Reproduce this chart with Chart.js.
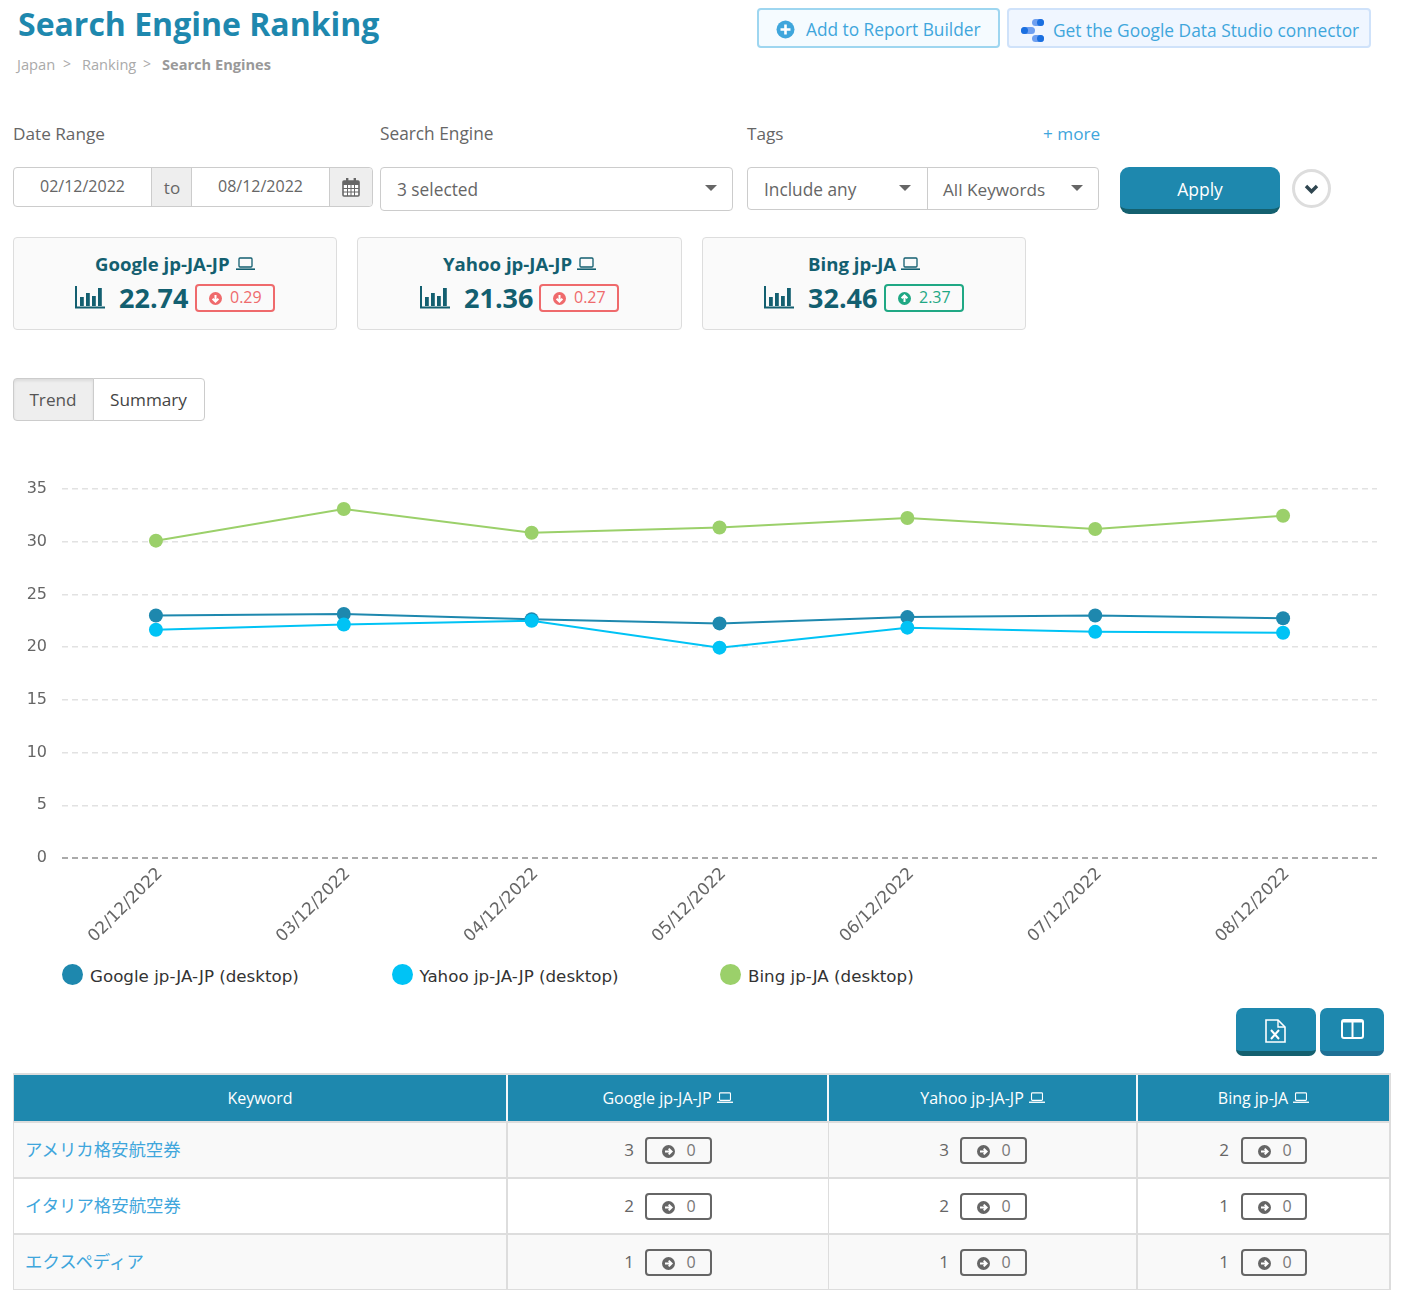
<!DOCTYPE html>
<html><head><meta charset="utf-8">
<script src="https://cdn.jsdelivr.net/npm/chart.js@4"></script>
<style>
html,body{margin:0;padding:0;background:#fff;overflow:hidden}
body{width:1404px;height:1290px;position:relative;font-family:"Open Sans",sans-serif;color:#666}
.a{position:absolute;box-sizing:border-box}
.t{position:absolute;white-space:nowrap;transform:translateY(-50%);line-height:1.2}
.c{transform:translate(-50%,-50%)}
svg{position:absolute;overflow:visible}
#wrap{position:absolute;left:0;top:470px;width:1404px;height:490px}
</style></head><body>
<div id="wrap"><canvas id="chart" width="1404" height="490"></canvas></div>
<script>
const dates=["02/12/2022","03/12/2022","04/12/2022","05/12/2022","06/12/2022","07/12/2022","08/12/2022"];
const yTicks=[0,5,10,15,20,25,30,35];
const googleValues=[23.0,23.15,22.65,22.25,22.85,23.0,22.74];
const yahooValues=[21.65,22.15,22.5,19.95,21.85,21.45,21.36];
const bingValues=[30.1,33.1,30.85,31.35,32.25,31.2,32.46];
const seriesNames=["Google jp-JA-JP (desktop)","Yahoo jp-JA-JP (desktop)","Bing jp-JA (desktop)"];
const seriesColors=["#1e88ae","#00c3f5","#9bd06a"];
const engineNames=["Google jp-JA-JP","Yahoo jp-JA-JP","Bing jp-JA"];
const cardValues=["22.74","21.36","32.46"];
const cardChanges=["0.29","0.27","2.37"];
const cardDirections=["down","down","up"];
const keywords=["アメリカ格安航空券","イタリア格安航空券","エクスペディア"];
const googleRanks=[3,2,1];
const yahooRanks=[3,2,1];
const bingRanks=[2,1,1];
const rankChanges=[0,0,0];

const B=document.body;
const BLUE="#1e88ae",DARK="#135f70",LINK="#3fa6dc";
function box(x,y,w,h,s){const d=document.createElement('div');d.className='a';d.style.cssText+=`left:${x}px;top:${y}px;width:${w}px;height:${h}px;${s||''}`;B.appendChild(d);return d}
function txt(x,y,str,s,center){const d=document.createElement('div');d.className='t'+(center?' c':'');d.style.cssText+=`left:${x}px;top:${y}px;${s||''}`;d.textContent=str;B.appendChild(d);return d}
function svg(x,y,w,h,inner,vw,vh){const n=document.createElementNS('http://www.w3.org/2000/svg','svg');n.setAttribute('width',w);n.setAttribute('height',h);n.setAttribute('viewBox',`0 0 ${vw||w} ${vh||h}`);n.style.left=x+'px';n.style.top=y+'px';n.innerHTML=inner;B.appendChild(n);return n}
function laptop(x,y,col,w){w=w||19;svg(x,y,w,w*14/19,`<rect x="3" y="1" width="13" height="9" rx="1" fill="none" stroke="${col}" stroke-width="1.3"/><rect x="0" y="11.4" width="19" height="1.6" fill="${col}"/>`,19,14)}
function bars(x,y,col){svg(x,y,30,23,`<path d="M1 0V21.5H30" fill="none" stroke="${col}" stroke-width="2"/><rect x="5" y="11" width="3.8" height="9" fill="${col}"/><rect x="11" y="7" width="3.8" height="13" fill="${col}"/><rect x="17" y="10" width="3.8" height="10" fill="${col}"/><rect x="23" y="2" width="3.8" height="18" fill="${col}"/>`)}
function caret(x,y,col){svg(x-6,y-3,12,7,`<path d="M0 0H12L6 6Z" fill="${col||'#666'}"/>`)}
function arrow(x,y,dir,col,r){r=r||6.5;let a;
 if(dir==='down')a=`M6.5 3V9.5M3.6 6.7L6.5 9.6L9.4 6.7`;
 else if(dir==='up')a=`M6.5 10V3.5M3.6 6.3L6.5 3.4L9.4 6.3`;
 else a=`M3 6.5H9.5M6.7 3.6L9.6 6.5L6.7 9.4`;
 svg(x-r,y-r,2*r,2*r,`<circle cx="6.5" cy="6.5" r="6.5" fill="${col}"/><path d="${a}" fill="none" stroke="#fff" stroke-width="2"/>`,13,13)}

// header
txt(18,24,"Search Engine Ranking",`font-size:32px;font-weight:700;color:${BLUE}`);
txt(17,64.6,"Japan",'font-size:14.7px;color:#aaa');txt(63,64,">",'font-size:14px;color:#aaa');
txt(82,64.6,"Ranking",'font-size:14.6px;color:#aaa');txt(143,64,">",'font-size:14px;color:#aaa');
txt(162,64.6,"Search Engines",'font-size:14.6px;font-weight:700;color:#999');
box(757,8,243,40,'background:#f5fbff;border:2px solid #9ed6f0;border-radius:4px');
svg(776,20,19,19,`<circle cx="9.5" cy="9.5" r="9" fill="#3fa6dc"/><path d="M9.5 4.5v10M4.5 9.5h10" stroke="#fff" stroke-width="2.6"/>`);
txt(806,30,"Add to Report Builder",`font-size:17.3px;color:${LINK}`);
box(1007,8,364,40,'background:#f0f6ff;border:2px solid #cfe2fa;border-radius:4px');
svg(1020,18,26,24,`<rect x="12" y="1" width="12" height="7" rx="3.5" fill="#6e9ff0"/><circle cx="20.5" cy="4.5" r="3.5" fill="#1a6fe0"/><rect x="1" y="9" width="14" height="7" rx="3.5" fill="#6e9ff0"/><circle cx="4.5" cy="12.5" r="3.5" fill="#1a6fe0"/><rect x="12" y="17" width="12" height="7" rx="3.5" fill="#6e9ff0"/><circle cx="20.5" cy="20.5" r="3.5" fill="#1a6fe0"/>`);
txt(1053,30,"Get the Google Data Studio connector",`font-size:17.35px;color:${LINK}`);

// filters
txt(13,134,"Date Range",'font-size:17.2px');txt(380,134,"Search Engine",'font-size:17.3px');txt(747,134,"Tags",'font-size:17.2px');
txt(1043,134,"+ more",`font-size:17.2px;color:${LINK}`);
box(13,167,360,40,'border:1px solid #ccc;border-radius:4px;background:#fff');
box(151,168,41,38,'background:#eee;border-left:1px solid #ccc;border-right:1px solid #ccc');
box(329,168,43,38,'background:#eee;border-left:1px solid #ccc;border-radius:0 4px 4px 0');
txt(82.5,187,"02/12/2022",'font-size:16px',1);txt(172,188,"to",'font-size:17px',1);txt(260.5,187,"08/12/2022",'font-size:16px',1);
svg(342,178,18,19,`<rect x="1" y="3" width="16" height="15" rx="1" fill="#fff" stroke="#666" stroke-width="1.6"/><rect x="1" y="3" width="16" height="4" fill="#666"/><path d="M1 10.5h16M1 14h16M5.5 7v11M9 7v11M12.5 7v11" stroke="#666" stroke-width="1"/><rect x="4" y="0" width="2.4" height="5" fill="#666"/><rect x="11.6" y="0" width="2.4" height="5" fill="#666"/>`);
box(380,167,353,44,'border:1px solid #ccc;border-radius:4px');txt(397,189.6,"3 selected",'font-size:17.3px');caret(711,188);
box(747,167,352,43,'border:1px solid #ccc;border-radius:4px');box(927,168,1,41,'background:#ccc');
txt(764,189.6,"Include any",'font-size:17.3px');caret(905,188);txt(943,189.6,"All Keywords",'font-size:17.2px');caret(1077,188);
box(1120,167,160,47,'background:#1e88ae;border-bottom:5px solid #14606f;border-radius:9px');
txt(1200,188.5,"Apply",'font-size:17.5px;color:#fff',1);
box(1292,169,39,39,'border:3px solid #ddd;border-radius:50%;background:#fff');
svg(1304,184,15,10,`<path d="M2 2l5.5 5.5L13 2" fill="none" stroke="#2f4650" stroke-width="3.4"/>`);

// summary cards
const cardX=[13,357,702],cardW=[324,325,324],titleX=[95,443,808],laptopX=[236,577,901],barX=[75,420,764],valX=[119,464,808],badgeX=[195,539,884];
engineNames.forEach((n,i)=>{
 box(cardX[i],237,cardW[i],93,'background:#fafafa;border:1px solid #ddd;border-radius:4px');
 txt(titleX[i],264,n,`font-size:18.6px;font-weight:700;color:${DARK}`);
 laptop(laptopX[i],257,DARK);
 bars(barX[i],286,DARK);
 txt(valX[i],298,cardValues[i],`font-size:27px;font-weight:700;color:${DARK}`);
 const col=cardDirections[i]==='up'?'#1fa884':'#ef6a6c';
 box(badgeX[i],284,80,28,`border:2px solid ${col};border-radius:4px`);
 arrow(badgeX[i]+20,298,cardDirections[i],col);
 txt(badgeX[i]+35,298,cardChanges[i],`font-size:16px;color:${col}`);
});

// tabs
box(13,378,81,43,'background:#eee;border:1px solid #ccc;border-radius:4px 0 0 4px;box-shadow:inset 0 2px 3px rgba(0,0,0,.08)');
box(93,378,112,43,'background:#fff;border:1px solid #ccc;border-radius:0 4px 4px 0');
txt(53,399.5,"Trend",'font-size:17.2px;color:#555',1);txt(148.5,399.5,"Summary",'font-size:17.2px;color:#444',1);

// legend
const legendX=[62,391.5,720];
seriesNames.forEach((n,i)=>{
 box(legendX[i],964,21,21,`background:${seriesColors[i]};border-radius:50%`);
 txt(legendX[i]+28,975.5,n,'font-family:"DejaVu Sans";font-size:16.7px;color:#333');
});

// export buttons
box(1236,1008,80,48,'background:#1e88ae;border-bottom:5px solid #14606f;border-radius:7px');
box(1320,1008,64,48,'background:#1e88ae;border-bottom:5px solid #1f7095;border-radius:7px');
svg(1265,1019,21,24,`<path d="M1 1H13L20 8V23H1Z" fill="none" stroke="#fff" stroke-width="1.6"/><path d="M13 1V8H20" fill="none" stroke="#fff" stroke-width="1.4"/><path d="M6 11l8 9M14 11l-8 9" stroke="#fff" stroke-width="2"/>`);
svg(1341,1019,23,20,`<rect x="1" y="1" width="21" height="18" rx="2" fill="none" stroke="#fff" stroke-width="2"/><rect x="1" y="1" width="21" height="2.5" fill="#fff"/><path d="M11.5 3V19" stroke="#fff" stroke-width="2"/>`);

// table
const headCenter=[260,657,972,1253];
const rowTop=[1123,1179,1235];
const numX=[629,944,1224],badgeTableX=[645,960,1241];
box(13,1073,1378,2,'background:#ddd');
box(14,1075,1376,46,`background:${BLUE}`);
box(13,1121,1378,2,'background:#ddd');
txt(260,1098.6,"Keyword",'font-size:16px;color:#fff',1);
engineNames.forEach((n,i)=>{txt(headCenter[i+1],1098.6,n,'font-size:16px;color:#fff',1)});
const headLap=[717,1029,1293];headLap.forEach(x=>laptop(x,1092,'#fff',16));
keywords.forEach((k,r)=>{
 const y=rowTop[r];
 box(13,y,1378,54,`background:${r%2?'#fff':'#f9f9f9'}`);
 box(13,y+54,1378,2,'background:#ddd');
 txt(25,y+26,k,`font-family:"Noto Sans CJK JP";font-size:17.4px;color:${LINK}`);
 [googleRanks,yahooRanks,bingRanks].forEach((arr,c)=>{
  txt(numX[c],y+27,String(arr[r]),'font-size:17px;color:#666',1);
  const bx=badgeTableX[c];
  box(bx,y+14,c==2?66:67,27,'border:2px solid #666;border-radius:4px;background:transparent');
  arrow(bx+23,y+28,'flat','#666',6.5);
  txt(bx+46,y+28,String(rankChanges[r]),'font-size:16px;color:#777',1);
 });
});
box(13,1073,1,217,'background:#ddd');box(1389,1073,2,217,'background:#ddd');
box(506,1123,2,167,'background:#ddd');box(1136,1123,2,167,'background:#ddd');box(828,1123,1,167,'background:#ddd');
[507,828,1137].forEach(x=>box(x-1,1075,2,46,'background:#f4f8fa'));

// chart
const datasets=[
 {label:seriesNames[2],data:bingValues,borderColor:seriesColors[2],backgroundColor:seriesColors[2],order:3},
 {label:seriesNames[0],data:googleValues,borderColor:seriesColors[0],backgroundColor:seriesColors[0],order:2},
 {label:seriesNames[1],data:yahooValues,borderColor:seriesColors[1],backgroundColor:seriesColors[1],order:1}
].map(d=>Object.assign(d,{borderWidth:2,tension:0,pointRadius:7,pointBorderWidth:0,fill:false}));
new Chart(document.getElementById('chart'),{
 type:'line',
 data:{labels:dates,datasets},
 options:{
  responsive:false,animation:false,devicePixelRatio:1,
  layout:{padding:{top:19,right:27,left:0,bottom:0}},
  plugins:{legend:{display:false},title:{display:false},tooltip:{enabled:false}},
  scales:{
   x:{offset:true,grid:{display:false},border:{display:false},
      afterFit(s){s.height=102},
      ticks:{maxRotation:45,minRotation:45,padding:-2,labelOffset:4,autoSkip:false,color:'#666',font:{family:'"DejaVu Sans"',size:16.8}}},
   y:{min:0,max:35,grid:{drawTicks:false,color:c=>c.tick.value===0?'#aaa':'#e2e2e2',lineWidth:c=>c.tick.value===0?2:1.5},
      border:{display:false,dash:[6,4]},
      afterFit(s){s.width=62;s.paddingTop=0;s.paddingBottom=0},
      afterBuildTicks(s){s.ticks=yTicks.map(v=>({value:v}))},
      ticks:{padding:15,color:'#666',font:{family:'"DejaVu Sans"',size:16}}}
  }
 }
});
</script>
</body></html>
